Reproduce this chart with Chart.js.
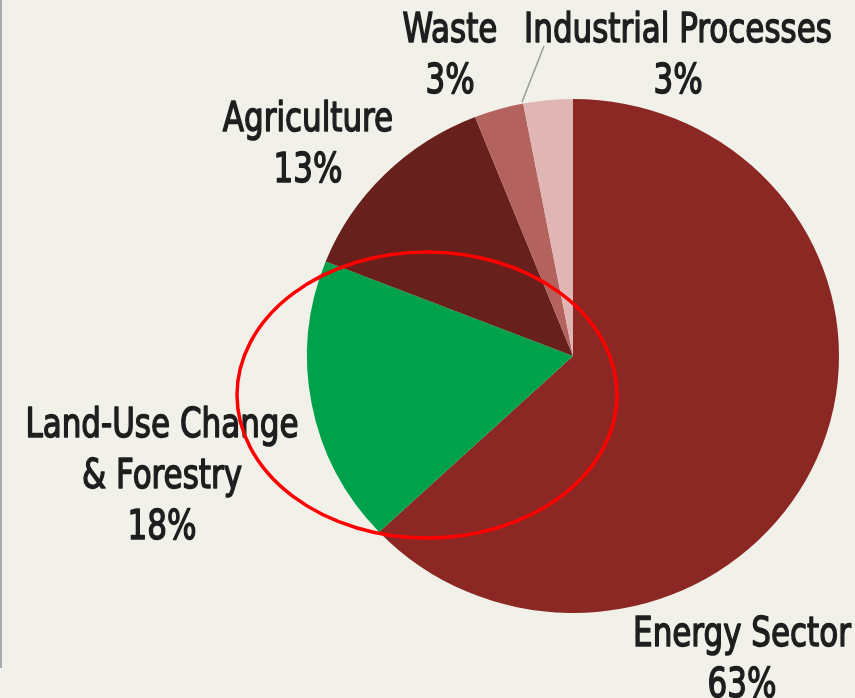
<!DOCTYPE html>
<html>
<head>
<meta charset="utf-8">
<script src="https://cdn.jsdelivr.net/npm/chart.js@4"></script>
<style>
html,body{margin:0;padding:0;background:#F1F1E9;}
canvas{display:block;}
</style>
</head>
<body>
<canvas id="c" width="855" height="698"></canvas>
<script>
// ---- data ----
const categories = ["Energy Sector", "Land-Use Change & Forestry", "Agriculture", "Waste", "Industrial Processes"];
const shares = [63, 18, 13, 3, 3];
const labelLines = [["Energy Sector"], ["Land-Use Change", "& Forestry"], ["Agriculture"], ["Waste"], ["Industrial Processes"]];
const colors = ["#8B2824", "#00A14B", "#67201B", "#B4625E", "#E2B5B5"];

// ---- layout (positions for annotations) ----
const CX = 573, CY = 356, XSCALE = 1.035;
const labelPos = [[742, 646], [162, 437], [308, 131], [450, 42], [678, 42]];
const LINE_H = 51;

const bgPlugin = {
  id: 'bg',
  beforeDraw(chart) {
    const ctx = chart.ctx;
    ctx.save();
    ctx.fillStyle = '#F1F1E9';
    ctx.fillRect(0, 0, chart.width, chart.height);
    ctx.fillStyle = '#A8AAB0';
    ctx.fillRect(0, 0, 2, 668);
    ctx.restore();
  },
  beforeDatasetsDraw(chart) {
    const ctx = chart.ctx;
    ctx.save();
    ctx.translate(CX, CY);
    ctx.scale(XSCALE, 1);
    ctx.translate(-CX, -CY);
  },
  afterDatasetsDraw(chart) {
    chart.ctx.restore();
  },
  afterDraw(chart) {
    const ctx = chart.ctx;
    ctx.save();
    // leader line for Industrial Processes
    ctx.strokeStyle = '#9A9A9A';
    ctx.lineWidth = 1.5;
    ctx.beginPath();
    ctx.moveTo(544, 46);
    ctx.lineTo(522, 102);
    ctx.stroke();
    // labels
    ctx.fillStyle = '#1E1E1E';
    ctx.strokeStyle = '#1E1E1E';
    ctx.lineWidth = 1.5;
    ctx.lineJoin = 'round';
    ctx.textAlign = 'center';
    ctx.textBaseline = 'alphabetic';
    ctx.font = "normal 41px 'DejaVu Sans Condensed', 'DejaVu Sans', sans-serif";
    categories.forEach((c, i) => {
      const [x, y] = labelPos[i];
      const lines = labelLines[i].concat([shares[i] + '%']);
      lines.forEach((t, k) => {
        ctx.save();
        ctx.translate(x, y + k * LINE_H);
        ctx.scale(0.84, 1);
        ctx.fillText(t, 0, 0);
        ctx.strokeText(t, 0, 0);
        ctx.restore();
      });
    });
    // red ellipse annotation
    ctx.strokeStyle = '#FF0000';
    ctx.lineWidth = 3.5;
    ctx.beginPath();
    ctx.ellipse(427, 395, 190, 143, 0, 0, Math.PI * 2);
    ctx.stroke();
    ctx.restore();
  }
};

new Chart(document.getElementById('c'), {
  type: 'pie',
  data: {
    labels: categories,
    datasets: [{
      data: shares,
      backgroundColor: colors,
      borderWidth: 0
    }]
  },
  options: {
    responsive: false,
    devicePixelRatio: 1,
    animation: false,
    layout: { padding: { left: 316, right: 25, top: 99, bottom: 85 } },
    plugins: { legend: { display: false }, tooltip: { enabled: false } }
  },
  plugins: [bgPlugin]
});
</script>
</body>
</html>
